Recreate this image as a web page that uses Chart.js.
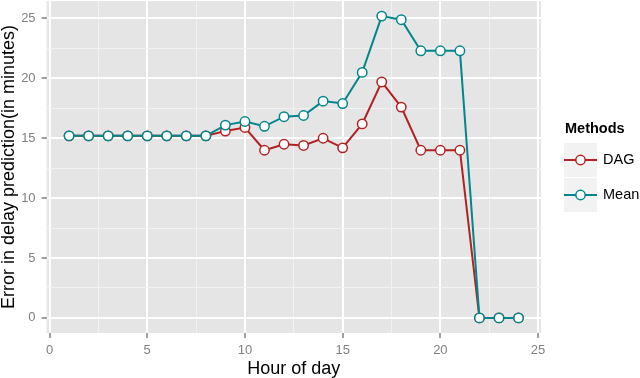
<!DOCTYPE html>
<html>
<head>
<meta charset="utf-8">
<script src="https://cdn.jsdelivr.net/npm/chart.js@4/dist/chart.umd.min.js"></script>
<style>
  body { margin: 0; background: #fff; }
  #wrap { width: 640px; height: 378px; }
</style>
</head>
<body>
<div id="wrap"><canvas id="chart" width="640" height="378"></canvas></div>
<script>
const hours = [1, 2, 3, 4, 5, 6, 7, 8, 9, 10, 11, 12, 13, 14, 15, 16, 17, 18, 19, 20, 21, 22, 23, 24];
const dagError = [15.2, 15.2, 15.2, 15.2, 15.2, 15.2, 15.2, 15.2, 15.6, 15.9, 14.0, 14.5, 14.4, 15.0, 14.2, 16.2, 19.7, 17.6, 14.0, 14.0, 14.0, 0, 0, 0];
const meanError = [15.2, 15.2, 15.2, 15.2, 15.2, 15.2, 15.2, 15.2, 16.1, 16.4, 16.0, 16.8, 16.9, 18.1, 17.9, 20.5, 25.2, 24.9, 22.3, 22.3, 22.3, 0, 0, 0];

const majorTicks = [0, 5, 10, 15, 20, 25];
const minorTicks = [2.5, 7.5, 12.5, 17.5, 22.5];

const seriesNames = ['DAG', 'Mean'];
const seriesColors = ['#b22222', '#00868b'];

const FONT = '"Liberation Sans", Arial, sans-serif';
const PLOT_LEFT = 46.6;
const PLOT_BOTTOM_SPACE = 45;

const allTicks = [...majorTicks, ...minorTicks].sort((a, b) => a - b);
const isMajor = v => majorTicks.includes(v);

// ggplot-ish grey panel behind the plot
const panelBg = {
  id: 'panelBg',
  beforeDraw: (chart) => {
    const { ctx, chartArea: a } = chart;
    ctx.save();
    ctx.fillStyle = '#e5e5e5';
    ctx.fillRect(a.left, a.top, a.right - a.left, a.bottom - a.top);
    ctx.restore();
  }
};

// legend on the right, drawn like ggplot's guide
const sideLegend = {
  id: 'sideLegend',
  afterDraw: (chart) => {
    const ctx = chart.ctx;
    ctx.save();
    ctx.fillStyle = '#000';
    ctx.font = `bold 14.5px ${FONT}`;
    ctx.textAlign = 'left';
    ctx.textBaseline = 'alphabetic';
    ctx.fillText('Methods', 565, 133);

    seriesNames.forEach((name, i) => {
      const top = 143 + i * 35;
      const cy = top + 17;
      ctx.fillStyle = '#f2f2f2';
      ctx.fillRect(564, top, 33, 34);
      ctx.strokeStyle = seriesColors[i];
      ctx.lineWidth = 2;
      ctx.beginPath();
      ctx.moveTo(564, cy);
      ctx.lineTo(597, cy);
      ctx.stroke();
      ctx.beginPath();
      ctx.arc(580.5, cy, 4.7, 0, Math.PI * 2);
      ctx.fillStyle = '#fff';
      ctx.fill();
      ctx.lineWidth = 1.5;
      ctx.stroke();
      ctx.fillStyle = '#000';
      ctx.font = `14.5px ${FONT}`;
      ctx.textBaseline = 'middle';
      ctx.fillText(name, 603, cy);
    });
    ctx.restore();
  }
};

const makeDataset = (values, i) => ({
  label: seriesNames[i],
  data: hours.map((h, k) => ({ x: h, y: values[k] })),
  borderColor: seriesColors[i],
  borderWidth: 2,
  pointBackgroundColor: '#fff',
  pointBorderColor: seriesColors[i],
  pointBorderWidth: 1.5,
  pointRadius: 4.7,
  tension: 0,
  order: i === 1 ? 0 : 1,
});

const gridOpts = {
  color: ctx => isMajor(ctx.tick.value) ? '#ffffff' : '#f2f2f2',
  lineWidth: ctx => isMajor(ctx.tick.value) ? 2 : 1,
  tickColor: ctx => isMajor(ctx.tick.value) ? '#7f7f7f' : 'rgba(0,0,0,0)',
  tickWidth: 1.5,
  tickLength: 5,
  drawTicks: true,
};

new Chart(document.getElementById('chart'), {
  type: 'line',
  data: {
    datasets: [makeDataset(dagError, 0), makeDataset(meanError, 1)],
  },
  plugins: [panelBg, sideLegend],
  options: {
    responsive: false,
    animation: false,
    layout: { autoPadding: false, padding: { top: 1, right: 99, left: 0, bottom: 0 } },
    plugins: {
      legend: { display: false },
      tooltip: { enabled: false },
    },
    scales: {
      x: {
        type: 'linear',
        min: -0.15,
        max: 25.15,
        border: { display: false },
        grid: gridOpts,
        afterBuildTicks: axis => { axis.ticks = allTicks.map(v => ({ value: v })); },
        afterFit: axis => {
          axis.height = PLOT_BOTTOM_SPACE;
          axis.paddingLeft = 0;
          axis.paddingRight = 0;
        },
        ticks: {
          autoSkip: false,
          maxRotation: 0,
          padding: 5,
          color: '#7f7f7f',
          font: { family: FONT, size: 13 },
          callback: v => isMajor(v) ? String(v) : '',
        },
        title: {
          display: true,
          text: 'Hour of day',
          color: '#000',
          padding: 0,
          font: { family: FONT, size: 18, lineHeight: 1 },
        },
      },
      y: {
        min: -1.26,
        max: 26.46,
        border: { display: false },
        grid: gridOpts,
        afterBuildTicks: axis => { axis.ticks = allTicks.map(v => ({ value: v })); },
        afterFit: axis => {
          axis.width = PLOT_LEFT;
          axis.paddingTop = 0;
          axis.paddingBottom = 0;
        },
        ticks: {
          autoSkip: false,
          padding: 6,
          color: '#7f7f7f',
          font: { family: FONT, size: 13 },
          callback: v => isMajor(v) ? String(v) : '',
        },
        title: {
          display: true,
          text: 'Error in delay prediction(in minutes)',
          color: '#000',
          padding: 0,
          font: { family: FONT, size: 18, lineHeight: 1 },
        },
      },
    },
  },
});
</script>
</body>
</html>
